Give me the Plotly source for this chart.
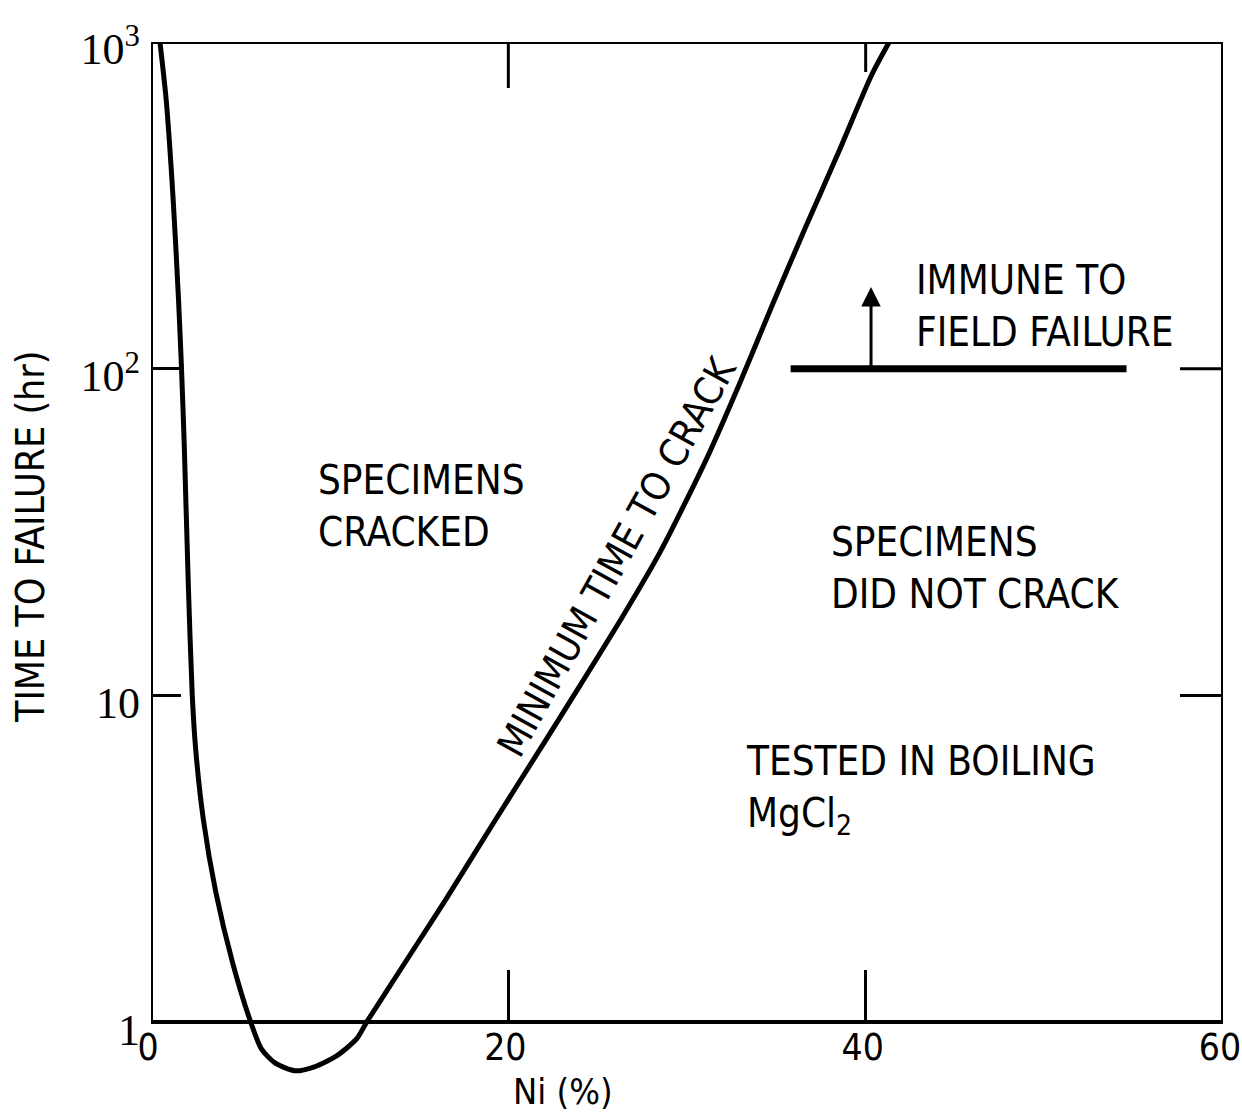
import numpy as np
import plotly.graph_objects as go

# ---- data ----
NI_PCT = [0.50, 0.85, 1.24, 1.54, 1.71, 1.86, 2.09, 2.31, 2.50, 2.93, 3.62, 4.58, 5.58,
          6.17, 6.94, 8.04, 9.15, 10.41, 11.52, 12.07, 13.17, 14.82, 16.47, 19.23,
          22.0, 24.0, 26.44, 28.5, 31.06, 32.94, 34.78, 36.61, 38.5, 40.34, 41.32]
HOURS = [1000, 665, 330, 163, 99.3, 58.7, 21.7, 10.0, 6.85, 4.17, 2.51, 1.51, 1.0,
         0.83, 0.75, 0.71, 0.73, 0.79, 0.89, 1.0, 1.24, 1.71, 2.36, 4.12,
         7.16, 10.7, 17.6, 27.5, 52.5, 90.0, 157, 269, 462, 794, 1000]

IMMUNE_X = [35.8, 54.6]
IMMUNE_Y = [100, 100]
ARROW_X = 40.3
ARROW_Y = [100, 178]

X_RANGE = [0, 60]
Y_FRAME = [1, 1000]
X_TICKVALS = [0, 20, 40, 60]
X_TICKTEXT = ["0", "20", "40", "60"]
Y_TICKVALS = [1, 10, 100, 1000]
Y_TICKTEXT = ["1", "10", "10<sup>2</sup>", "10<sup>3</sup>"]
TOP_TICKS = [20, 40]
TOP_TICK_LEN = [46, 30]
RIGHT_TICKS = [10, 100]

# ---- layout constants (page pixels; body margin removed below) ----
W, H = 1242, 1116
PLOT_L, PLOT_R, PLOT_T, PLOT_B = 151, 1223, 42, 1094
ML = PLOT_L
MT = PLOT_T
MR = W - PLOT_R
MB = H - PLOT_B
Y_LOG_MIN = -0.22
Y_LOG_MAX = 3

SANS = "Liberation Sans Narrow, DejaVu Sans Condensed, Arial Narrow, Liberation Sans, sans-serif"
SERIF = "Liberation Serif, DejaVu Serif, serif"

plot_w = PLOT_R - PLOT_L
plot_h = PLOT_B - PLOT_T


def pxp(xpix):
    return (xpix - PLOT_L) / plot_w


def pyp(ypix):
    return (PLOT_B - ypix) / plot_h


x_axis_pos = (0 - Y_LOG_MIN) / (Y_LOG_MAX - Y_LOG_MIN)

fig = go.Figure()

fig.add_trace(go.Scatter(x=NI_PCT, y=HOURS, mode="lines",
                         line=dict(color="black", width=5, shape="spline", smoothing=0.7),
                         hoverinfo="skip", showlegend=False))
fig.add_trace(go.Scatter(x=IMMUNE_X, y=IMMUNE_Y, mode="lines",
                         line=dict(color="black", width=7),
                         hoverinfo="skip", showlegend=False))

shapes = [dict(type="rect", xref="x", yref="y", x0=X_RANGE[0], x1=X_RANGE[1],
               y0=Y_FRAME[0], y1=Y_FRAME[1], line=dict(color="black", width=4),
               layer="above")]
for v, ln in zip(TOP_TICKS, TOP_TICK_LEN):
    shapes.append(dict(type="line", xref="x", yref="paper", x0=v, x1=v,
                       ysizemode="pixel", yanchor=1, y0=0, y1=-ln,
                       line=dict(color="black", width=3)))
for v in RIGHT_TICKS:
    shapes.append(dict(type="line", xref="x", yref="y", y0=v, y1=v,
                       xsizemode="pixel", xanchor=X_RANGE[1], x0=0, x1=-43,
                       line=dict(color="black", width=3)))

annos = []
txt = dict(showarrow=False, font=dict(family=SANS, size=40, color="black"),
           xref="paper", yref="paper", align="left", xanchor="left", yanchor="middle")
annos.append(dict(text="SPECIMENS<br>CRACKED", x=pxp(316), y=pyp(506), **txt))
annos.append(dict(text="IMMUNE TO<br>FIELD FAILURE", x=pxp(914), y=pyp(306), **txt))
annos.append(dict(text="SPECIMENS<br>DID NOT CRACK", x=pxp(829), y=pyp(568), **txt))
annos.append(dict(text="TESTED IN BOILING<br>MgCl<sub>2</sub>", x=pxp(744), y=pyp(790), **txt))
annos.append(dict(text="MINIMUM TIME TO CRACK", x=pxp(616), y=pyp(557), textangle=-61,
                  showarrow=False, font=dict(family=SANS, size=39, color="black"),
                  xref="paper", yref="paper", xanchor="center", yanchor="middle"))
annos.append(dict(text="TIME TO FAILURE (hr)", x=pxp(30), y=pyp(537), textangle=-90,
                  showarrow=False, font=dict(family=SANS, size=39, color="black"),
                  xref="paper", yref="paper", xanchor="center", yanchor="middle"))
annos.append(dict(text="Ni (%)", x=pxp(563), y=pyp(1091),
                  showarrow=False, font=dict(family=SANS, size=36, color="black"),
                  xref="paper", yref="paper", xanchor="center", yanchor="middle"))
# arrow (annotation coords on a log axis are log10 values)
annos.append(dict(text="", x=ARROW_X, y=np.log10(ARROW_Y[1]), ax=ARROW_X, ay=np.log10(ARROW_Y[0]),
                  xref="x", yref="y", axref="x", ayref="y", showarrow=True,
                  arrowhead=2, arrowsize=1.3, arrowwidth=3, arrowcolor="black", standoff=0))

fig.update_layout(
    width=W, height=H,
    margin=dict(l=ML, r=MR, t=MT, b=MB, autoexpand=False),
    paper_bgcolor="white", plot_bgcolor="white",
    showlegend=False,
    shapes=shapes, annotations=annos,
    xaxis=dict(range=X_RANGE, showgrid=False, zeroline=False, showline=False,
               ticks="inside", ticklen=52, tickwidth=3, tickcolor="black",
               tickvals=X_TICKVALS, ticktext=X_TICKTEXT,
               tickfont=dict(family=SANS, size=37, color="black"),
               anchor="free", position=x_axis_pos, ticklabelstandoff=0,
               ticklabelshift=-3, ticklabeloverflow="allow", automargin=False),
    yaxis=dict(type="log", range=[Y_LOG_MIN, Y_LOG_MAX], showgrid=False, zeroline=False,
               showline=False, ticks="inside", ticklen=30, tickwidth=3, tickcolor="black",
               tickvals=Y_TICKVALS, ticktext=Y_TICKTEXT,
               tickfont=dict(family=SERIF, size=44, color="black"),
               ticklabelstandoff=10, ticklabelshift=7,
               ticklabeloverflow="allow", automargin=False),
)

fig.write_html("out.html", config={"displayModeBar": False},
               post_script="document.body.style.margin='0px';")
